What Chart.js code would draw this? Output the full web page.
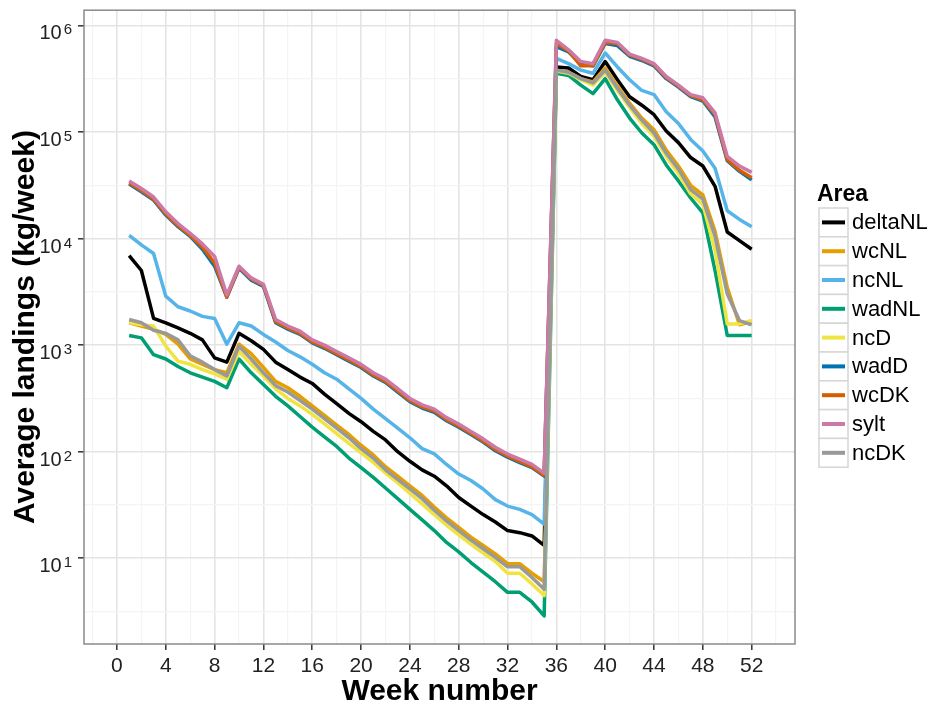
<!DOCTYPE html>
<html>
<head>
<meta charset="utf-8">
<title>Average landings by week</title>
<script src="https://cdn.jsdelivr.net/npm/chart.js@4.4.1/dist/chart.umd.min.js"></script>
<style>
  html, body { margin: 0; padding: 0; background: #fff; }
  #wrap { width: 933px; height: 713px; }
</style>
</head>
<body>
<div id="wrap"><canvas id="myChart" width="933" height="713"></canvas></div>
<script>
const FONT = "'Liberation Sans', Arial, sans-serif";

const weeks = [1, 2, 3, 4, 5, 6, 7, 8, 9, 10, 11, 12, 13, 14, 15, 16, 17, 18, 19, 20, 21, 22, 23, 24, 25, 26,
               27, 28, 29, 30, 31, 32, 33, 34, 35, 36, 37, 38, 39, 40, 41, 42, 43, 44, 45, 46, 47, 48, 49, 50, 51, 52];

const areas = ['deltaNL', 'wcNL', 'ncNL', 'wadNL', 'ncD', 'wadD', 'wcDK', 'sylt', 'ncDK'];
const areaColors = ['#000000', '#E69F00', '#56B4E9', '#009E73', '#F0E442', '#0072B2', '#D55E00', '#CC79A7', '#999999'];

// average landings, kg/week
const deltaNL = [6920, 5010, 1780, 1620, 1450, 1290, 1120, 759, 692, 1290,
                 1100, 912, 692, 589, 501, 437, 347, 282, 229, 191,
                 155, 129, 100, 81.3, 67.6, 58.9, 47.9, 37.2, 30.9, 25.7,
                 21.9, 18.2, 17.4, 16.2, 13.2, 407000, 398000, 331000, 309000, 457000,
                 309000, 214000, 178000, 145000, 102000, 79400, 57500, 47900, 30900, 11500,
                 9550, 7940];
const wcNL = [1620, 1510, 1410, 1260, 1020, 741, 661, 589, 550, 1020,
              832, 617, 457, 398, 331, 269, 219, 178, 145, 115,
              93.3, 72.4, 58.9, 47.9, 38.9, 30.2, 24.0, 19.5, 15.8, 13.2,
              11.0, 8.91, 8.91, 7.24, 6.03, 380000, 363000, 316000, 295000, 398000,
              269000, 186000, 135000, 105000, 67600, 47900, 31600, 25700, 11700, 3470,
              1550, 1660];
const ncNL = [10700, 8710, 7240, 2880, 2290, 2090, 1860, 1780, 1020, 1620,
              1510, 1260, 1070, 891, 776, 661, 550, 479, 389, 316,
              251, 204, 166, 135, 107, 95.5, 75.9, 61.7, 53.7, 44.7,
              35.5, 30.9, 28.8, 25.7, 20.9, 490000, 437000, 380000, 355000, 550000,
              407000, 309000, 245000, 224000, 155000, 120000, 85100, 66100, 45700, 18200,
              15100, 12900];
const wadNL = [1230, 1170, 813, 741, 631, 550, 501, 457, 398, 741,
               550, 427, 331, 269, 214, 170, 138, 112, 87.1, 70.8,
               57.5, 45.7, 36.3, 28.8, 22.9, 18.2, 14.1, 11.5, 9.12, 7.41,
               6.03, 4.79, 4.79, 3.89, 2.88, 355000, 339000, 275000, 229000, 316000,
               200000, 135000, 97700, 75900, 49000, 34700, 24000, 17400, 5010, 1230,
               1230, 1230];
const ncD = [1620, 1550, 1510, 977, 708, 661, 589, 537, 479, 871,
             661, 513, 389, 316, 269, 224, 182, 148, 120, 97.7,
             79.4, 63.1, 51.3, 40.7, 32.4, 25.7, 20.4, 16.6, 13.5, 11.2,
             9.33, 7.24, 7.24, 5.75, 4.47, 372000, 355000, 309000, 275000, 363000,
             245000, 170000, 120000, 91200, 58900, 40700, 26300, 20900, 7760, 1580,
             1580, 1700];
const wadD = [32400, 27500, 22900, 16600, 12900, 10500, 7940, 5500, 2820, 5250,
              4070, 3550, 1620, 1410, 1260, 1050, 933, 813, 708, 617,
              513, 447, 363, 295, 257, 234, 195, 170, 145, 123,
              102, 89, 79, 71, 59, 631000, 562000, 437000, 417000, 676000,
              646000, 513000, 468000, 417000, 316000, 263000, 214000, 195000, 138000, 53700,
              42700, 35500];
const wcDK = [33100, 28200, 23400, 17000, 13200, 10700, 8300, 5890, 2820, 5370,
              4170, 3630, 1660, 1450, 1290, 1070, 955, 832, 724, 631,
              525, 457, 372, 302, 263, 240, 200, 174, 148, 126,
              105, 91, 81, 72, 60, 676000, 575000, 417000, 417000, 692000,
              676000, 525000, 479000, 427000, 324000, 269000, 219000, 200000, 145000, 55000,
              43700, 37200];
const sylt = [34700, 29500, 24500, 17800, 13800, 11200, 8900, 6800, 2950, 5500,
              4270, 3720, 1740, 1510, 1350, 1120, 1000, 870, 760, 660,
              550, 480, 390, 316, 275, 251, 209, 182, 155, 132,
              110, 95, 85, 76, 63, 724000, 589000, 457000, 437000, 724000,
              692000, 537000, 490000, 437000, 331000, 275000, 224000, 209000, 151000, 58900,
              47900, 41700];
const ncDK = [1740, 1620, 1380, 1290, 1120, 794, 692, 589, 513, 977,
              741, 550, 417, 363, 302, 251, 204, 166, 135, 107,
              87.1, 67.6, 55.0, 44.7, 36.3, 28.2, 22.4, 18.2, 14.8, 12.3,
              10.2, 8.32, 8.32, 6.61, 5.13, 380000, 363000, 316000, 288000, 380000,
              257000, 178000, 129000, 97700, 63100, 44700, 28800, 23400, 10500, 3020,
              1700, 1550];

const areaSeries = [deltaNL, wcNL, ncNL, wadNL, ncD, wadD, wcDK, sylt, ncDK];

// axis breaks
const xMajor = [0, 4, 8, 12, 16, 20, 24, 28, 32, 36, 40, 44, 48, 52];
const xMinor = [-2, 2, 6, 10, 14, 18, 22, 26, 30, 34, 38, 42, 46, 50, 54];
const yPowers = [1, 2, 3, 4, 5, 6];
const yMinorPowers = [0.5, 1.5, 2.5, 3.5, 4.5, 5.5];

const datasets = areas.map((name, i) => ({
    label: name,
    data: weeks.map((w, j) => ({ x: w, y: areaSeries[i][j] })),
    borderColor: areaColors[i],
    backgroundColor: areaColors[i],
    borderWidth: 3.5,
    pointRadius: 0,
    tension: 0,
    borderJoinStyle: 'round',
    order: areas.length - i // later areas are painted on top
}));

const isMajorX = v => xMajor.includes(v);
const isMajorY = v => yPowers.some(p => Math.abs(Math.log10(v) - p) < 1e-6);

// panel border, y tick labels with exponents and the area legend
const decorations = {
    id: 'decorations',
    afterDraw(chart) {
        const ctx = chart.ctx;
        const area = chart.chartArea;
        const yScale = chart.scales.y;

        ctx.save();
        ctx.strokeStyle = '#8a8a8a';
        ctx.lineWidth = 1.5;
        ctx.strokeRect(area.left, area.top, area.right - area.left, area.bottom - area.top);

        // y labels as 10^n
        ctx.fillStyle = '#222';
        ctx.textBaseline = 'alphabetic';
        yPowers.forEach(p => {
            const y = yScale.getPixelForValue(Math.pow(10, p));
            ctx.font = `15px ${FONT}`;
            const exp = String(p);
            const expW = ctx.measureText(exp).width;
            const right = 72;
            ctx.textAlign = 'left';
            ctx.fillText(exp, right - expW, y + 9);
            ctx.font = `20px ${FONT}`;
            ctx.textAlign = 'right';
            ctx.fillText('10', right - expW - 2, y + 14);
        });

        // legend
        const lx = 819, top = 208, keyH = 28.8, keyW = 29;
        ctx.fillStyle = '#000';
        ctx.font = `bold 23px ${FONT}`;
        ctx.textAlign = 'left';
        ctx.textBaseline = 'middle';
        ctx.fillText('Area', 817, 195);
        ctx.font = `22px ${FONT}`;
        areas.forEach((name, i) => {
            const y0 = top + i * keyH;
            ctx.fillStyle = '#fff';
            ctx.fillRect(lx, y0, keyW, keyH);
            ctx.strokeStyle = '#d6d6d6';
            ctx.lineWidth = 1.5;
            ctx.strokeRect(lx, y0, keyW, keyH);
            ctx.strokeStyle = areaColors[i];
            ctx.lineWidth = 4;
            ctx.beginPath();
            ctx.moveTo(lx + 3, y0 + keyH / 2);
            ctx.lineTo(lx + keyW - 3, y0 + keyH / 2);
            ctx.stroke();
            ctx.fillStyle = '#000';
            ctx.fillText(name, lx + keyW + 4, y0 + keyH / 2 + 1);
        });
        ctx.restore();
    }
};

const ctx = document.getElementById('myChart').getContext('2d');
const myChart = new Chart(ctx, {
    type: 'line',
    data: { datasets },
    options: {
        responsive: false,
        animation: false,
        layout: { padding: { top: 4, right: 138, left: 0, bottom: 0 } },
        plugins: { legend: { display: false }, tooltip: { enabled: false } },
        scales: {
            x: {
                type: 'linear',
                min: -2.7,
                max: 55.55,
                afterBuildTicks: scale => {
                    scale.ticks = xMinor.concat(xMajor).sort((a, b) => a - b).map(v => ({ value: v }));
                },
                afterFit: scale => { scale.height = 69; },
                border: { display: false },
                grid: {
                    color: c => isMajorX(c.tick.value) ? '#e4e4e4' : '#f4f4f4',
                    lineWidth: c => isMajorX(c.tick.value) ? 1.6 : 1.2,
                    tickColor: c => isMajorX(c.tick.value) ? '#333' : 'rgba(0,0,0,0)',
                    tickWidth: 1.5,
                    tickLength: 6
                },
                ticks: {
                    autoSkip: false,
                    maxRotation: 0,
                    padding: 4,
                    color: '#222',
                    font: { family: FONT, size: 21 },
                    callback: v => isMajorX(v) ? String(v) : ''
                },
                title: {
                    display: true,
                    text: 'Week number',
                    color: '#000',
                    font: { family: FONT, size: 30, weight: 'bold' },
                    padding: { top: 0, bottom: 3 }
                }
            },
            y: {
                type: 'logarithmic',
                min: 1.57,
                max: 1387000,
                afterBuildTicks: scale => {
                    scale.ticks = yMinorPowers.concat(yPowers).sort((a, b) => a - b)
                        .map(p => ({ value: Math.pow(10, p) }));
                },
                afterFit: scale => { scale.width = 84; },
                border: { display: false },
                grid: {
                    color: c => isMajorY(c.tick.value) ? '#e4e4e4' : '#f4f4f4',
                    lineWidth: c => isMajorY(c.tick.value) ? 1.6 : 1.2,
                    tickColor: c => isMajorY(c.tick.value) ? '#333' : 'rgba(0,0,0,0)',
                    tickWidth: 1.5,
                    tickLength: 6
                },
                ticks: {
                    autoSkip: false,
                    callback: () => ''
                },
                title: {
                    display: true,
                    text: 'Average landings (kg/week)',
                    color: '#000',
                    font: { family: FONT, size: 30, weight: 'bold' },
                    padding: { top: 8, bottom: 0 }
                }
            }
        }
    },
    plugins: [decorations]
});
</script>
</body>
</html>
